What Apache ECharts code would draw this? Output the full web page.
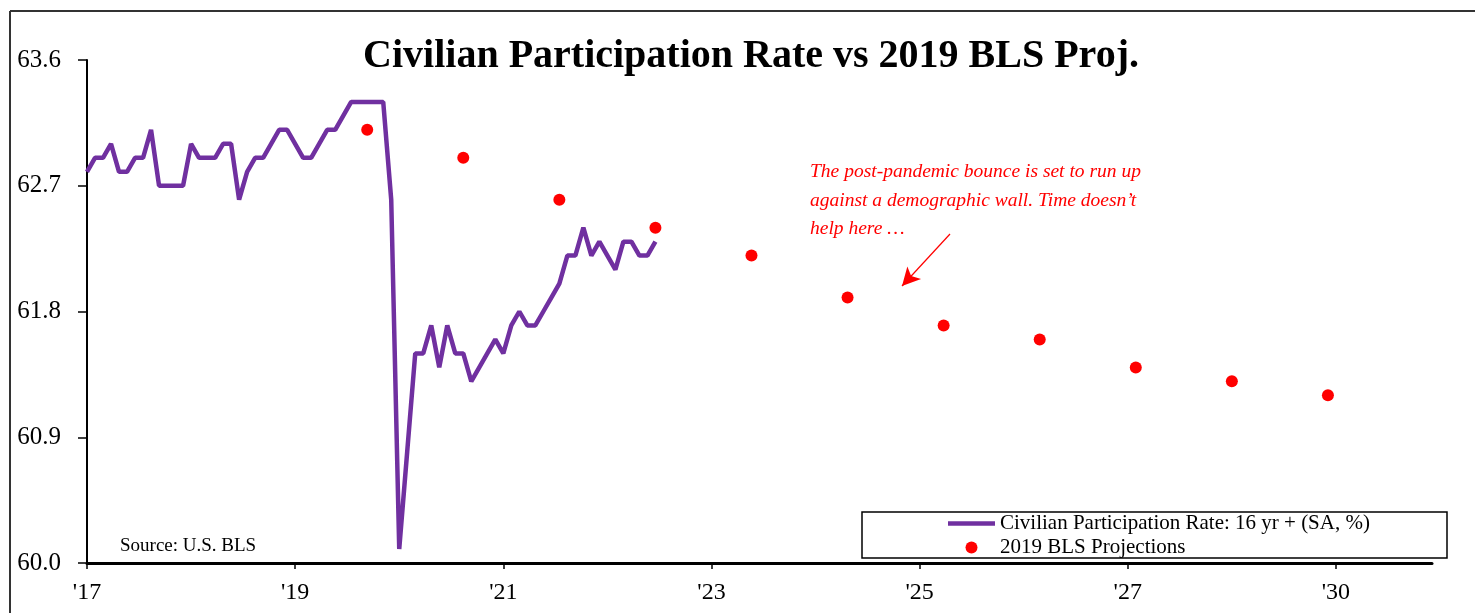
<!DOCTYPE html>
<html>
<head>
<meta charset="utf-8">
<script src="https://cdn.jsdelivr.net/npm/echarts@6/dist/echarts.min.js"></script>
<style>
  html, body { margin: 0; padding: 0; background: #ffffff; }
  #chart { width: 1475px; height: 613px; }
</style>
</head>
<body>
<div id="chart"></div>
<script>
// Monthly axis: Jan 2017 through Jan 2031
const startYear = 2017;
const monthCount = 169;

// Civilian participation rate, 16 yr +, SA, %, monthly from Jan 2017
const rateValues = [
  62.8, 62.9, 62.9, 63.0, 62.8, 62.8, 62.9, 62.9, 63.1, 62.7, 62.7, 62.7,
  62.7, 63.0, 62.9, 62.9, 62.9, 63.0, 63.0, 62.6, 62.8, 62.9, 62.9, 63.0,
  63.1, 63.1, 63.0, 62.9, 62.9, 63.0, 63.1, 63.1, 63.2, 63.3, 63.3, 63.3,
  63.3, 63.3, 62.6, 60.1, 60.8, 61.5, 61.5, 61.7, 61.4, 61.7, 61.5, 61.5,
  61.3, 61.4, 61.5, 61.6, 61.5, 61.7, 61.8, 61.7, 61.7, 61.8, 61.9, 62.0,
  62.2, 62.2, 62.4, 62.2, 62.3, 62.2, 62.1, 62.3, 62.3, 62.2, 62.2, 62.3
];

// 2019 BLS projections (December of each year)
const projMonths = ['2019-12', '2020-12', '2021-12', '2022-12', '2023-12', '2024-12',
                    '2025-12', '2026-12', '2027-12', '2028-12', '2029-12'];
const projValues = [63.1, 62.9, 62.6, 62.4, 62.2, 61.9, 61.7, 61.6, 61.4, 61.3, 61.2];

// Y axis ticks
const yMin = 60.0, yMax = 63.6, yStep = 0.9;
// Every 26th month carries a tick label
const labelEvery = 26;

const months = [];
for (let i = 0; i < monthCount; i++) {
  const y = startYear + Math.floor(i / 12);
  const m = (i % 12) + 1;
  months.push(y + '-' + (m < 10 ? '0' + m : m));
}

const SERIF = "'Liberation Serif', 'Times New Roman', serif";
const purple = '#7030A0';
const red = '#FF0000';
const lineName = 'Civilian Participation Rate: 16 yr + (SA, %)';
const dotName = '2019 BLS Projections';

const chart = echarts.init(document.getElementById('chart'), null, { renderer: 'canvas' });

chart.setOption({
  backgroundColor: '#ffffff',
  animation: false,
  grid: { left: 87, right: 43, top: 60, bottom: 50, containLabel: false },
  xAxis: {
    type: 'category',
    data: months,
    boundaryGap: false,
    axisLine: { show: true, lineStyle: { color: '#000', width: 3 } },
    axisTick: {
      show: true, length: 6, lineStyle: { color: '#000', width: 1.5 },
      interval: (i) => i % labelEvery === 0
    },
    axisLabel: {
      interval: (i) => i % labelEvery === 0,
      margin: 18,
      fontFamily: SERIF, fontSize: 24, color: '#000',
      formatter: (v) => "'" + v.slice(2, 4)
    },
    splitLine: { show: false }
  },
  yAxis: {
    type: 'value',
    min: yMin, max: yMax, interval: yStep,
    axisLine: { show: true, lineStyle: { color: '#000', width: 2 } },
    axisTick: { show: true, length: 9, lineStyle: { color: '#000', width: 1.5 } },
    axisLabel: {
      margin: 26,
      fontFamily: SERIF, fontSize: 25, color: '#000',
      formatter: (v) => v.toFixed(1)
    },
    splitLine: { show: false }
  },
  legend: {
    orient: 'vertical',
    left: 948, top: 512,
    itemWidth: 47, itemHeight: 12, itemGap: 1,
    padding: 0,
    textStyle: { fontFamily: SERIF, fontSize: 21, color: '#000', lineHeight: 23 },
    data: [
      { name: lineName, icon: 'path://M0,0H100V10H0Z' },
      { name: dotName, icon: 'circle' }
    ]
  },
  series: [
    {
      name: lineName,
      type: 'line',
      data: rateValues,
      symbol: 'none',
      lineStyle: { color: purple, width: 4.5 },
      itemStyle: { color: purple },
      z: 3,
      markLine: {
        silent: true,
        symbolSize: [14, 18],
        lineStyle: { color: red, width: 1.2, type: 'solid' },
        label: { show: false },
        data: [[
          { x: 950, y: 234, symbol: 'none' },
          { x: 902, y: 286, symbol: 'arrow' }
        ]]
      }
    },
    {
      name: dotName,
      type: 'scatter',
      data: projMonths.map((m, i) => [m, projValues[i]]),
      symbol: 'circle',
      symbolSize: 12,
      itemStyle: { color: red, opacity: 1 },
      z: 4
    }
  ],
  graphic: [
    // outer frame (top and left edges)
    { type: 'line', shape: { x1: 10, y1: 11, x2: 1475, y2: 11 }, style: { stroke: '#333', lineWidth: 2 }, z: 10 },
    { type: 'line', shape: { x1: 10, y1: 11, x2: 10, y2: 613 }, style: { stroke: '#333', lineWidth: 2 }, z: 10 },
    // title
    {
      type: 'text', x: 751, y: 57,
      style: {
        text: 'Civilian Participation Rate vs 2019 BLS Proj.',
        font: 'bold 40px ' + SERIF, fill: '#000',
        textAlign: 'center', textVerticalAlign: 'middle'
      }
    },
    // legend frame
    {
      type: 'rect', shape: { x: 862, y: 512, width: 585, height: 46 },
      style: { fill: '#ffffff', stroke: '#000', lineWidth: 1.5 }, z: -1, zlevel: 0
    },
    // source note
    {
      type: 'text', x: 120, y: 546,
      style: {
        text: 'Source: U.S. BLS', font: '19px ' + SERIF, fill: '#000',
        textVerticalAlign: 'middle'
      }
    },
    // annotation
    {
      type: 'text', x: 810, y: 158,
      style: {
        text: 'The post-pandemic bounce is set to run up\nagainst a demographic wall. Time doesn\u2019t\nhelp here \u2026',
        font: 'italic 19.5px ' + SERIF, fill: red, lineHeight: 28.5,
        textVerticalAlign: 'top'
      }
    }
  ]
});
</script>
</body>
</html>
